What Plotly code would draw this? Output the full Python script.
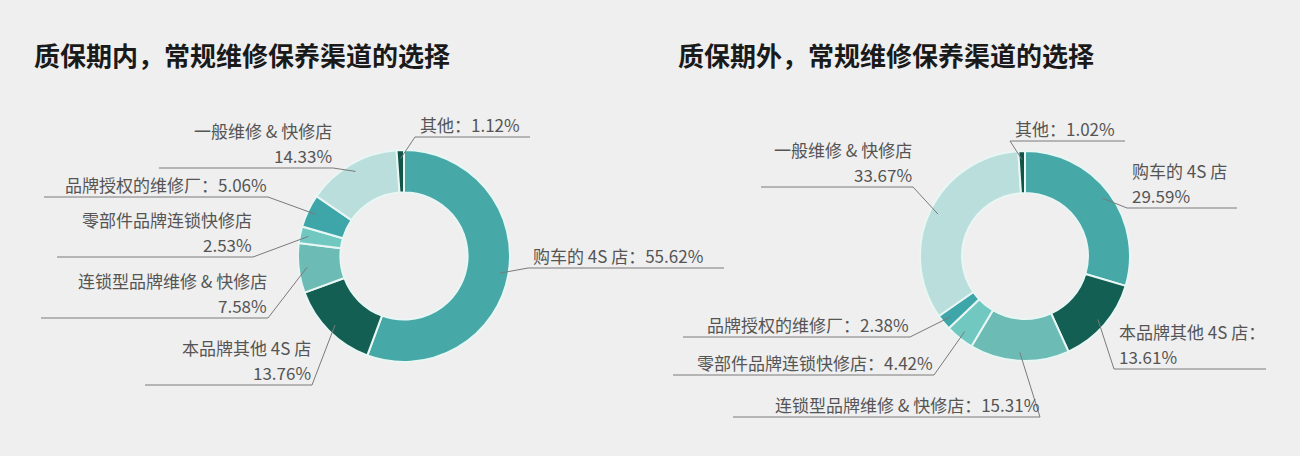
import math

import plotly.graph_objects as go

W, H = 1300, 456

# data
categories = [
    "购车的 4S 店",
    "本品牌其他 4S 店",
    "连锁型品牌维修 & 快修店",
    "零部件品牌连锁快修店",
    "品牌授权的维修厂",
    "一般维修 & 快修店",
    "其他",
]
inside_share = [55.62, 13.76, 7.58, 2.53, 5.06, 14.33, 1.12]
outside_share = [29.59, 13.61, 15.31, 4.42, 2.38, 33.67, 1.02]
titles = ["质保期内，常规维修保养渠道的选择", "质保期外，常规维修保养渠道的选择"]

colors = ["#46a9a8", "#135f53", "#6cbbb4", "#70c8c1", "#3ea6a8", "#badedb", "#0f5447"]

LABEL_FONT = "Noto Sans CJK SC, Noto Sans, sans-serif"
LABEL_SIZE = 17
LINE_GAP = 25
LINE_COLOR = "#7a7a7a"

# label layout per chart: (lines, underline x0, x1, underline y, side joined to the slice)
left_layout = [
    (1, 528, 724, 268, "left"),
    (2, 145, 312, 385, "right"),
    (2, 41, 268, 318, "right"),
    (2, 57, 253, 257, "right"),
    (1, 44, 268, 197, "right"),
    (2, 159, 333, 168, "right"),
    (1, 415, 530, 137, "left"),
]
right_layout = [
    (2, 1127, 1237, 208, "left"),
    (2, 1114, 1266, 369, "left"),
    (1, 733, 1040, 417, "right"),
    (1, 673, 934, 375, "right"),
    (1, 683, 910, 337, "right"),
    (2, 761, 913, 187, "right"),
    (1, 1010, 1125, 141, "left"),
]


def px(x):
    return x / W


def py(y):
    return 1 - y / H


def label(x, y, text, xanchor):
    return dict(
        x=px(x),
        y=py(y),
        xref="paper",
        yref="paper",
        xanchor=xanchor,
        yanchor="bottom",
        align=xanchor,
        borderpad=0,
        showarrow=False,
        text=text,
        font=dict(family=LABEL_FONT, size=LABEL_SIZE, color="#555555"),
    )


fig = go.Figure()
shapes = []
annotations = []

charts = [
    (inside_share, left_layout, 404, 256, 106, 32),
    (outside_share, right_layout, 1025, 256, 105, 676),
]

for idx, (values, layout, cx, cy, r, title_x) in enumerate(charts):
    fig.add_trace(
        go.Pie(
            labels=categories,
            values=values,
            hole=0.6,
            sort=False,
            direction="clockwise",
            rotation=0,
            textinfo="none",
            hoverinfo="label+percent",
            marker=dict(colors=colors, line=dict(color="#e8f6f4", width=2)),
            domain=dict(x=[px(cx - r), px(cx + r)], y=[py(cy + r), py(cy - r)]),
            showlegend=False,
        )
    )

    annotations.append(
        dict(
            x=px(title_x),
            y=py(55),
            xref="paper",
            yref="paper",
            xanchor="left",
            yanchor="middle",
            showarrow=False,
            text="<b>" + titles[idx] + "</b>",
            font=dict(family="Noto Sans CJK SC, sans-serif", size=26, color="#1a1a1a"),
        )
    )

    total = sum(values)
    cum = 0
    for name, v, (nlines, x0, x1, uy, side) in zip(categories, values, layout):
        mid = (cum + v / 2) / total
        cum += v
        a = 2 * math.pi * mid
        ar = r * 0.92
        ax = cx + ar * math.sin(a)
        ay = cy - ar * math.cos(a)

        # underline
        shapes.append(
            dict(type="line", xref="paper", yref="paper",
                 x0=px(x0), x1=px(x1), y0=py(uy), y1=py(uy),
                 line=dict(color=LINE_COLOR, width=1))
        )
        # leader
        jx = x0 if side == "left" else x1
        shapes.append(
            dict(type="line", xref="paper", yref="paper",
                 x0=px(jx), x1=px(ax), y0=py(uy), y1=py(ay),
                 line=dict(color=LINE_COLOR, width=1))
        )

        if side == "left":
            tx, xa = x0 + 4, "left"
        else:
            tx, xa = x1, "right"

        if nlines == 2:
            first = name + ("：" if (idx == 1 and name.startswith("本品牌")) else "")
            annotations.append(label(tx, uy + 1 - LINE_GAP, first, xa))
            annotations.append(label(tx, uy + 1, f"{v:.2f}%", xa))
        else:
            annotations.append(label(tx, uy + 1, f"{name}：{v:.2f}%", xa))

fig.update_layout(
    width=W,
    height=H,
    margin=dict(l=0, r=0, t=0, b=0),
    paper_bgcolor="#efefef",
    plot_bgcolor="#efefef",
    shapes=shapes,
    annotations=annotations,
)

fig.write_html(
    "out.html",
    config={"displayModeBar": False},
    post_script="document.body.style.margin='0';",
)
